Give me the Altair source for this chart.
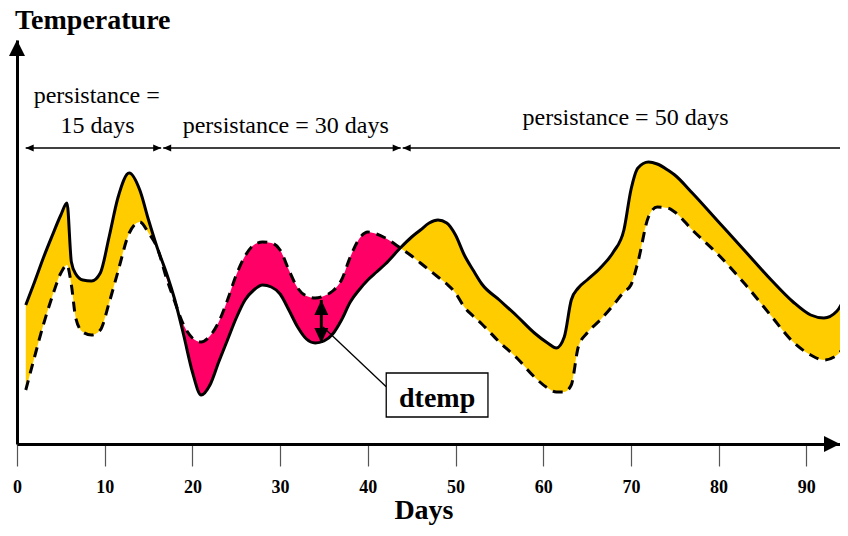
import altair as alt
import pandas as pd

# ---------------- data ----------------
days = [1, 2, 3, 4, 5, 5.7, 6.2, 6.7, 7.5, 8.5, 9.5, 10.5, 11.5, 12.8, 14, 15, 16,
        17, 18, 19, 20, 21, 22, 23, 24, 25, 26, 27, 28, 29, 30, 31, 32, 33, 34, 35,
        36, 37, 38, 39, 40, 41, 42, 43.7, 45, 46, 47, 48, 49, 50, 51, 52, 53, 55,
        57, 59, 60.5, 61.5, 62.4, 63.2, 64, 65, 66.5, 68, 69.2, 70, 70.8, 72, 73,
        74.2, 75, 77, 80, 83, 86, 88.5, 90.5, 92, 93.5, 95]
solid = [13.9, 16.2, 18.6, 20.8, 22.9, 24.1, 18.2, 17.0, 16.4, 16.3, 17.1, 20.7, 24.6,
         27.1, 25.4, 22.4, 19.6, 17.2, 14.4, 10.9, 7.2, 4.9, 5.9, 8.2, 10.4, 12.6,
         14.4, 15.4, 15.9, 15.7, 15.0, 13.4, 11.7, 10.5, 10.1, 10.3, 11.0, 12.4, 14.2,
         15.4, 16.4, 17.2, 18.0, 19.6, 20.7, 21.4, 22.1, 22.4, 22.1, 20.9, 18.9, 17.4,
         16.0, 14.4, 12.8, 11.1, 10.1, 9.6, 10.7, 14.4, 15.6, 16.4, 17.6, 19.2, 21.4,
         25.4, 27.6, 28.2, 28.0, 27.4, 26.9, 25.1, 22.2, 19.3, 16.4, 14.2, 12.9, 12.6,
         13.3, 15.9]
dashed = [5.4, 8.7, 11.9, 14.7, 17.1, 17.9, 15.9, 12.6, 11.2, 10.9, 11.4, 14.1, 17.2,
          21.1, 22.2, 21.1, 19.6, 16.7, 14.2, 11.9, 10.6, 10.2, 10.8, 12.2, 14.4, 16.9,
          18.8, 19.9, 20.2, 20.1, 19.4, 17.4, 15.6, 14.8, 14.6, 14.8, 15.3, 16.4, 18.7,
          20.5, 21.2, 21.0, 20.6, 19.6, 18.8, 18.1, 17.4, 16.7, 16.0, 15.1, 13.7, 12.8,
          12.0, 10.2, 8.6, 6.7, 5.6, 5.2, 5.2, 5.9, 9.7, 11.1, 12.4, 13.9, 15.2, 15.9,
          18.2, 22.7, 23.7, 23.6, 23.2, 21.4, 18.9, 16.0, 12.8, 10.2, 8.9, 8.4, 8.9, 10.7]
tick_days = [0, 10, 20, 30, 40, 50, 60, 70, 80, 90]
crossings = [16, 43.7]

# persistance periods (start, end) in days
period_start = [0.99, 16.67, 43.98]
period_end = [16.44, 43.75, 96]
period_labels = ["persistance = 30 days", "persistance = 50 days"]

YELLOW = "#FFCC00"
PINK = "#FF0066"
SERIF = "Liberation Serif"
XMAX = 93.84

df = pd.DataFrame({"day": days, "solid": solid, "dashed": dashed})
seg1 = df[df.day <= crossings[0]]
seg2 = df[(df.day >= crossings[0]) & (df.day <= crossings[1])]
seg3 = df[df.day >= crossings[1]]

XS = alt.Scale(domain=[0, XMAX], nice=False, zero=False)
YS = alt.Scale(domain=[0, 40.4], nice=False, zero=False)

xaxis = alt.Axis(values=tick_days, title=None, labelFont=SERIF, labelFontSize=18,
                 labelFontWeight="bold", labelColor="black", labelBaseline="alphabetic",
                 labelPadding=26, tickSize=22, tickColor="#555555", tickWidth=1.2,
                 domainColor="black", domainWidth=3, grid=False, labelAngle=0,
                 labelFlush=False, format="d")
yaxis = alt.Axis(title=None, labels=False, ticks=False, grid=False,
                 domainColor="black", domainWidth=3)


def X(f):
    return alt.X(f, type="quantitative", scale=XS, axis=xaxis)


def Y(f):
    return alt.Y(f, type="quantitative", scale=YS, axis=yaxis)


def area(d, color):
    return alt.Chart(d).mark_area(color=color, interpolate="monotone", opacity=1).encode(
        x=X("day"), y=Y("solid"), y2="dashed")


areas = area(seg1, YELLOW) + area(seg2, PINK) + area(seg3, YELLOW)

solid_line = alt.Chart(df).mark_line(color="black", strokeWidth=3,
                                     interpolate="monotone").encode(x=X("day"), y=Y("solid"))
dashed_line = alt.Chart(df).mark_line(color="black", strokeWidth=3, strokeDash=[10, 7],
                                      interpolate="monotone").encode(x=X("day"), y=Y("dashed"))

# persistance arrows
arr = pd.DataFrame({"x": period_start, "x2": period_end, "y": [29.6] * 3})
arr_lines = alt.Chart(arr).mark_rule(color="black", strokeWidth=1.3).encode(
    x=X("x"), x2="x2", y=Y("y"))


def heads(xs, ys, path, size):
    d = pd.DataFrame({"x": xs, "y": ys})
    return alt.Chart(d).mark_point(shape=path, size=size, filled=True, color="black",
                                   opacity=1, strokeWidth=0).encode(x=X("x"), y=Y("y"))


left_heads = heads(period_start, [29.6] * 3, "M0,0 L3.2,-1.4 L3.2,1.4 Z", 25)
right_heads = heads(period_end[:2], [29.6] * 2, "M0,0 L-3.2,-1.4 L-3.2,1.4 Z", 25)

# axis arrow heads
y_arrow = heads([0.0], [40.4], "M0,0 L-2,4 L2,4 Z", 64)
x_arrow = heads([XMAX], [0.0], "M0,0 L-4,-2 L-4,2 Z", 64)

# dtemp annotation
dt = pd.DataFrame({"x": [34.7], "y": [14.4], "y2": [10.1]})
dt_shaft = alt.Chart(dt).mark_rule(color="black", strokeWidth=3).encode(
    x=X("x"), y=Y("y"), y2="y2")
dt_up = heads([34.7], [14.4], "M0,0 L-2,4.3 L2,4.3 Z", 49)
dt_down = heads([34.7], [10.1], "M0,0 L-2,-4.3 L2,-4.3 Z", 49)
leader = alt.Chart(pd.DataFrame({"x": [34.9], "y": [11.7], "x2": [42.1], "y2": [5.73]})).mark_rule(
    color="black", strokeWidth=1.3).encode(x=X("x"), y=Y("y"), x2="x2", y2="y2")
box = alt.Chart(pd.DataFrame({"x": [42.1], "x2": [53.7], "y": [7.1], "y2": [2.7]})).mark_rect(
    fill="white", stroke="black", strokeWidth=1.3).encode(x=X("x"), x2="x2", y=Y("y"), y2="y2")


def label(xs, ys, texts, size, weight="normal", align="center"):
    d = pd.DataFrame({"x": xs, "y": ys, "t": texts})
    return alt.Chart(d).mark_text(font=SERIF, fontSize=size, fontWeight=weight, color="black",
                                  align=align, baseline="alphabetic").encode(
        x=X("x"), y=Y("y"), text="t:N")


persist_text = label([9.09, 9.18, 30.64, 69.39], [34.1, 31.1, 31.1, 31.9],
                     ["persistance =", "15 days"] + period_labels, 24)
dtemp_text = label([47.9], [3.73], ["dtemp"], 28, "bold")
temp_title = label([-0.23], [41.5], ["Temperature"], 28, "bold", "left")
days_title = label([46.4], [-7.5], ["Days"], 28, "bold")

chart = alt.layer(
    areas, solid_line, dashed_line, arr_lines, left_heads, right_heads, y_arrow, x_arrow,
    leader, dt_shaft, dt_up, dt_down, box, persist_text, dtemp_text, temp_title, days_title
).properties(
    width=823, height=404,
    autosize=alt.AutoSizeParams(type="none"),
    padding={"left": 9, "top": 32, "right": 0, "bottom": 82},
).configure_view(stroke=None)

chart.save("out.html", embed_options={"renderer": "svg", "actions": False})
